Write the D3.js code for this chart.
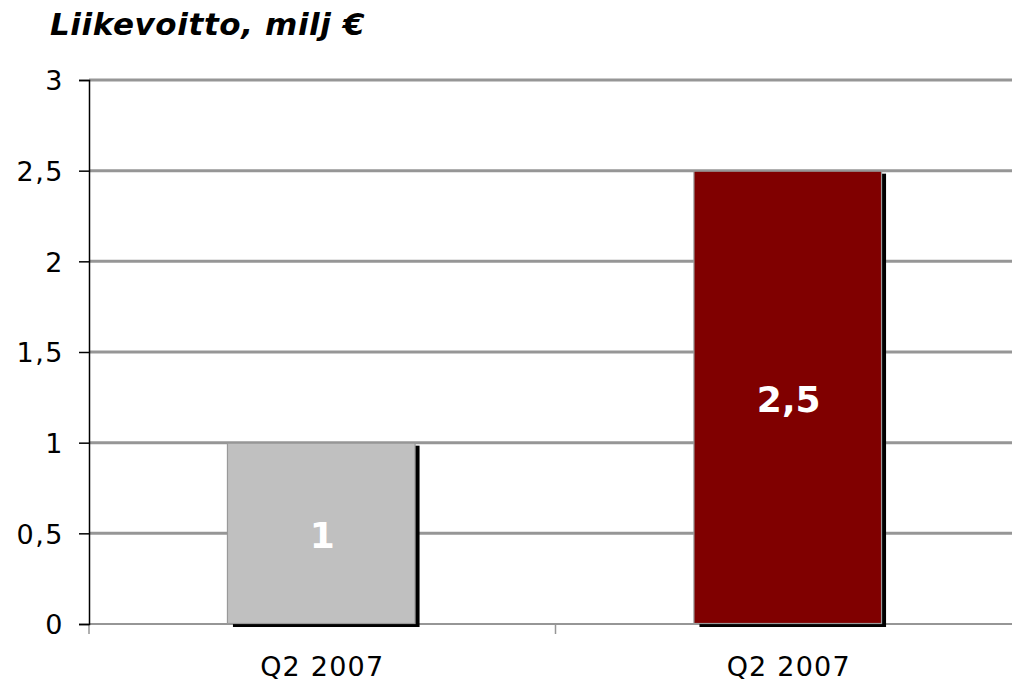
<!DOCTYPE html>
<html>
<head>
<meta charset="utf-8">
<script src="https://cdn.jsdelivr.net/npm/d3@7"></script>
<style>
  html, body { margin: 0; padding: 0; background: #fff; }
  svg { display: block; }
</style>
</head>
<body>
<svg id="chart" width="1012" height="682"></svg>
<script>
const title = "Liikevoitto, milj €";
const categories = ["Q2 2007", "Q2 2007"];
const values = [1, 2.5];
const barColors = ["#C0C0C0", "#800000"];
const yTicks = [0, 0.5, 1, 1.5, 2, 2.5, 3];

(function () {
const svg = d3.select("#chart");
const plotLeft = 89, plotRight = 1022, plotTop = 80, plotBottom = 624;

const locale = d3.formatLocale({decimal: ",", thousands: " ", grouping: [3], currency: ["", " €"]});
const fmt = v => locale.format("~g")(v);

const y = d3.scaleLinear().domain([0, 3]).range([plotBottom, plotTop]);
const x = d3.scaleBand().domain(d3.range(categories.length)).range([plotLeft, plotRight])
  .paddingInner(0.6).paddingOuter(0.3);
const xEdge = d3.scaleLinear().domain([0, categories.length]).range([plotLeft, plotRight]);

const font = "'DejaVu Sans', Verdana, sans-serif";

// title
svg.append("text")
  .attr("x", 50).attr("y", 35)
  .attr("font-family", font).attr("font-size", 31)
  .attr("font-weight", "bold").attr("font-style", "italic")
  .attr("letter-spacing", 0.6)
  .attr("fill", "#000")
  .text(title);

// gridlines
svg.append("g").selectAll("line")
  .data(yTicks.filter(d => d > 0))
  .join("line")
  .attr("x1", plotLeft).attr("x2", plotRight)
  .attr("y1", d => y(d)).attr("y2", d => y(d))
  .attr("stroke", "#969696").attr("stroke-width", 3);

// x baseline
svg.append("line")
  .attr("x1", plotLeft).attr("x2", plotRight)
  .attr("y1", y(0)).attr("y2", y(0))
  .attr("stroke", "#969696").attr("stroke-width", 2);

// x ticks at category boundaries
svg.append("g").selectAll("line")
  .data(d3.range(categories.length + 1))
  .join("line")
  .attr("x1", d => xEdge(d)).attr("x2", d => xEdge(d))
  .attr("y1", y(0)).attr("y2", y(0) + 10)
  .attr("stroke", "#969696").attr("stroke-width", 1.5);

// shadows
svg.append("g").selectAll("rect")
  .data(values)
  .join("rect")
  .attr("x", (d, i) => x(i) + 4)
  .attr("y", d => y(d) + 3)
  .attr("width", x.bandwidth())
  .attr("height", d => y(0) - y(d))
  .attr("fill", "#000");

// bars
svg.append("g").selectAll("rect")
  .data(values)
  .join("rect")
  .attr("x", (d, i) => x(i) - 1.5)
  .attr("y", d => y(d) + 0.5)
  .attr("width", x.bandwidth() + 1)
  .attr("height", d => y(0) - y(d) - 1)
  .attr("fill", (d, i) => barColors[i])
  .attr("stroke", "#999999").attr("stroke-width", 1.2);

// bar labels
svg.append("g").selectAll("text")
  .data(values)
  .join("text")
  .attr("x", (d, i) => x(i) + x.bandwidth() / 2)
  .attr("y", d => (y(d) + y(0)) / 2 + 15)
  .attr("text-anchor", "middle")
  .attr("font-family", font).attr("font-size", 36).attr("font-weight", "bold")
  .attr("fill", "#fff")
  .text(d => fmt(d));

// y axis
const yAxis = d3.axisLeft(y).tickValues(yTicks).tickFormat(fmt).tickSize(10).tickPadding(15);
const gy = svg.append("g").attr("transform", `translate(${plotLeft},0)`).call(yAxis);
gy.select(".domain").attr("stroke", "#000").attr("stroke-width", 1.5);
gy.selectAll(".tick line").attr("stroke", "#000").attr("stroke-width", 1.5);
gy.selectAll(".tick text")
  .attr("font-family", font).attr("font-size", 27).attr("fill", "#000")
  .attr("letter-spacing", 1.5)
  .attr("dy", "0.36em");

// x labels
svg.append("g").selectAll("text")
  .data(categories)
  .join("text")
  .attr("x", (d, i) => x(i) + x.bandwidth() / 2)
  .attr("y", 676)
  .attr("text-anchor", "middle")
  .attr("font-family", font).attr("font-size", 27).attr("fill", "#000")
  .attr("letter-spacing", 1.2)
  .text(d => d);
})();
</script>
</body>
</html>
